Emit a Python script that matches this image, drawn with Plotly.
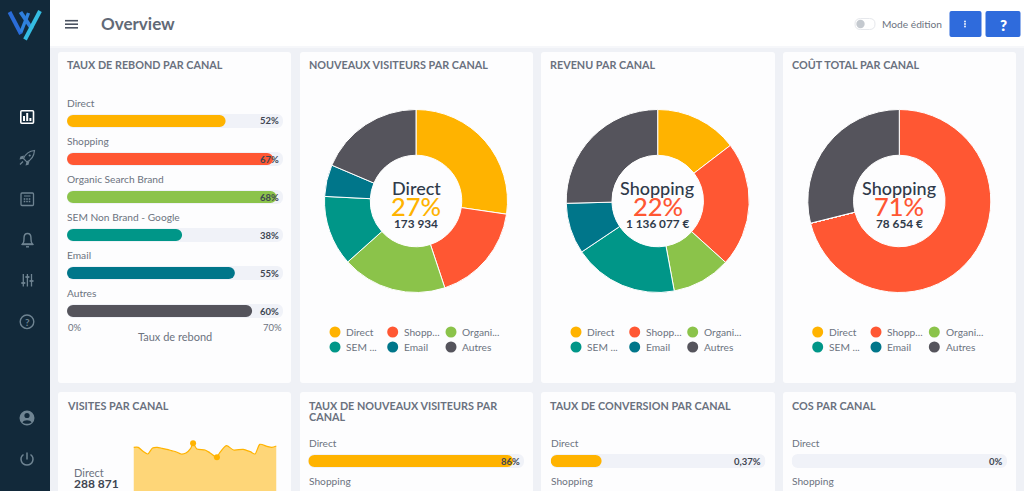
import plotly.graph_objects as go

W, H = 1024, 491
FONT = "Lato"

# ---- data ----
channels = ["Direct", "Shopping", "Organic Search Brand", "SEM Non Brand - Google", "Email", "Autres"]
colors = ["#ffb300", "#ff5733", "#8bc34a", "#009688", "#00768a", "#55545c"]
legend_labels = ["Direct", "Shopp...", "Organi...", "SEM ...", "Email", "Autres"]

bounce_values = [51.4, 66.8, 67.9, 37.3, 54.4, 60.0]
bounce_labels = ["52%", "67%", "68%", "38%", "55%", "60%"]
bounce_max = 70

new_visitors = [27.3, 17.6, 18.5, 12.4, 5.6, 18.6]
revenue = [14.6, 22.1, 10.4, 18.5, 9.0, 25.4]
cost = [0, 71.1, 0, 0, 0, 28.9]

visit_days = [0, 1, 2, 3, 4, 5, 6, 7, 8, 9, 10, 11, 12, 12.5, 13.3, 15, 16, 17.5, 18, 19.5, 21, 23, 24.5, 25.5, 26.5, 28, 29, 30]
visit_values = [10480, 10480, 9520, 8880, 10320, 10480, 10240, 10000, 9680, 9360, 8880, 9120, 10240, 11440,
                10080, 9840, 9200, 8080, 9040, 10880, 9840, 10000, 9440, 8880, 11200, 10720, 10480, 10800]
visit_marker_days = [12.5, 17.5]
visit_marker_values = [11440, 8080]

bottom_cats = ["Direct", "Shopping"]
new_rate = [86, None]
new_rate_labels = ["86%"]
conv_rate = [0.37, None]
conv_rate_labels = ["0,37%"]
cos_rate = [0, None]
cos_rate_labels = ["0%"]

pie_panels = [
    dict(values=new_visitors, cx=416, cy=201, name="Direct", pct="27%", val="173 934", col=colors[0],
         lx=[335, 392.7, 451], tx=[345, 403, 461.5]),
    dict(values=revenue, cx=657.7, cy=201, name="Shopping", pct="22%", val="1 136 077 €", col=colors[1],
         lx=[576, 634.7, 692.7], tx=[586.5, 645, 703]),
    dict(values=cost, cx=899.3, cy=201, name="Shopping", pct="71%", val="78 654 €", col=colors[1],
         lx=[817.7, 876, 934.3], tx=[828.2, 886.5, 945]),
]

TITLE = "#6a717e"
LABEL = "#6c7380"
DARK = "#2f3a4a"
TRACK = "#f0f2f8"
SIDE = "#12293a"
ICON = "#6f8492"

shapes, annots = [], []


def dom_x(a, b):
    return [a / W, b / W]


def dom_y(top, bottom):
    return [1 - bottom / H, 1 - top / H]


def rrect(x0, y0, x1, y1, r):
    return (f"M{x0+r} {y0} L{x1-r} {y0} Q{x1} {y0} {x1} {y0+r} L{x1} {y1-r} Q{x1} {y1} {x1-r} {y1} "
            f"L{x0+r} {y1} Q{x0} {y1} {x0} {y1-r} L{x0} {y0+r} Q{x0} {y0} {x0+r} {y0} Z")


def S(**k):
    k.setdefault("xref", "x")
    k.setdefault("yref", "y")
    k.setdefault("layer", "below")
    k.setdefault("line", dict(width=0))
    shapes.append(k)


def path(d, fill="rgba(0,0,0,0)", line=None, width=0):
    S(type="path", path=d, fillcolor=fill, line=dict(color=line or "rgba(0,0,0,0)", width=width))


def rect(x0, y0, x1, y1, fill):
    S(type="rect", x0=x0, y0=y0, x1=x1, y1=y1, fillcolor=fill)


def circ(cx, cy, r, fill="rgba(0,0,0,0)", line=None, width=0):
    S(type="circle", x0=cx - r, x1=cx + r, y0=cy - r, y1=cy + r, fillcolor=fill,
      line=dict(color=line or "rgba(0,0,0,0)", width=width))


def seg(x0, y0, x1, y1, col, width):
    S(type="line", x0=x0, y0=y0, x1=x1, y1=y1, line=dict(color=col, width=width))


def T(x, y, text, size=11, color=LABEL, anchor="left", weight=400, xref="x", yref="y", **k):
    annots.append(dict(x=x, y=y, xref=xref, yref=yref, text=text, showarrow=False, xanchor=anchor,
                       yanchor="middle", borderpad=0,
                       font=dict(family=FONT, size=size, color=color, weight=weight), **k))


# ---- page chrome ----
rect(0, 0, W, H, "#eff1f6")
rect(50, 0, W, 46, "#ffffff")
rect(50, 46, W, 48, "#f6f7fa")
rect(0, 0, 50, H, SIDE)

cards = [(58, 52, 291, 383), (300, 52, 533, 383), (541, 52, 775, 383), (783, 52, 1016, 383),
         (58, 392, 291, 500), (300, 392, 533, 500), (541, 392, 775, 500), (783, 392, 1016, 500)]
for c in cards:
    path(rrect(*c, 3), fill="#fdfdfe")

# header
for yy in (20.7, 24.2, 27.8):
    seg(65, yy, 78, yy, "#4b5361", 1.6)
T(99.8, 23.3, "Overview", size=17, color="#626a77", weight=700)
path(rrect(855, 18.5, 875, 29.5, 5.5), fill="#ffffff", line="#e6e8ec", width=1)
circ(860.5, 24, 4.2, fill="#c4c9cf")
T(880.5, 23.5, "Mode édition", size=10.2, color=LABEL)
path(rrect(949.5, 11, 981.5, 37, 2), fill="#2f6bdc")
path(rrect(985.5, 11, 1020.5, 37, 2), fill="#2f6bdc")
for yy in (21.5, 24, 26.5):
    circ(965, yy, 0.9, fill="#ffffff")
T(1003, 24.5, "?", size=15, color="#ffffff", anchor="center", weight=800)

# logo
seg(9.5, 12, 21, 34, "#2a6cd8", 4)
seg(21, 32, 28.5, 13, "#2f84dd", 3.4)
seg(20.5, 12, 32, 29, "#2f7fdc", 4)
seg(40, 11, 25, 39.5, "#35bde2", 4)

# sidebar icons
path(rrect(20.8, 110.8, 33.5, 123.3, 1), line="#ffffff", width=1.6)
for bx, top in ((24, 116), (27.2, 113), (30.4, 118)):
    seg(bx, top, bx, 121, "#ffffff", 2)
# rocket
path("M34.5 150.5 C29 151 25.5 154 23.5 158.5 L26.8 161.8 C31.5 160 34 156 34.5 150.5 Z", line=ICON, width=1.2)
path("M24 155.5 L20.5 156.5 L19.5 159.5 L23.2 158.7 Z", fill=ICON)
path("M29.5 161 L28.5 164.7 L25.5 165.5 L26.5 162 Z", fill=ICON)
seg(23, 161.5, 20, 164.5, ICON, 1.2)
circ(29.7, 155.5, 1.1, fill=ICON)
# calculator / table
path(rrect(21, 193, 33.5, 205.5, 1), line=ICON, width=1.3)
for gx in (24.5, 27, 29.5):
    for gy in (199, 201.5):
        rect(gx - 0.8, gy - 0.8, gx + 0.8, gy + 0.8, ICON)
seg(24, 196, 30.5, 196, ICON, 1)
# bell
path("M22.5 244 C24.5 242 24 240 24 238 C24 235 25.5 233.5 27.5 233.5 C29.5 233.5 31 235 31 238 C31 240 30.5 242 32.5 244 Z",
     line=ICON, width=1.4)
seg(21.8, 244.5, 33.2, 244.5, ICON, 1.4)
seg(26, 246.8, 29, 246.8, ICON, 1.4)
# sliders
for sx, ky in ((23.3, 283), (27.4, 277), (31.5, 281)):
    seg(sx, 274, sx, 286.5, ICON, 1.3)
    seg(sx - 2, ky, sx + 2, ky, ICON, 1.8)
# help
circ(27, 321.8, 6.8, line=ICON, width=1.4)
T(27, 322, "?", size=10, color=ICON, anchor="center", weight=700)
# user
circ(27, 418, 7.5, fill=ICON)
circ(27, 415.5, 2.6, fill=SIDE)
path("M22.5 422.5 C23.5 419.5 30.5 419.5 31.5 422.5 C29.5 424.3 24.5 424.3 22.5 422.5 Z", fill=SIDE)
# power
path("M23.5 454.5 C19 458 21 465 27 465 C33 465 35 458 30.5 454.5", line=ICON, width=1.5)
seg(27, 452.5, 27, 459.5, ICON, 1.5)

# card titles
for x, y, txt in [(65.8, 64.4, "TAUX DE REBOND PAR CANAL"), (307.5, 64.4, "NOUVEAUX VISITEURS PAR CANAL"),
                  (549, 64.4, "REVENU PAR CANAL"), (791, 64.4, "COÛT TOTAL PAR CANAL"),
                  (65.8, 405.4, "VISITES PAR CANAL"), (307.5, 405.4, "TAUX DE NOUVEAUX VISITEURS PAR"),
                  (307.5, 416.5, "CANAL"), (549, 405.4, "TAUX DE CONVERSION PAR CANAL"),
                  (791, 405.4, "COS PAR CANAL")]:
    T(x, y, txt, size=10.8, color=TITLE, weight=700)

fig = go.Figure()
# placeholder trace keeps the pixel axes as the first subplot
fig.add_trace(go.Scatter(x=[None], y=[None], xaxis="x", yaxis="y", showlegend=False, hoverinfo="skip"))


def pill(cats, vals, cols, thickness, xa, ya):
    """A bar with an explicit base, which plotly rounds at both ends."""
    fig.add_trace(go.Bar(y=cats, base=[0] * len(cats), x=vals, orientation="h", width=thickness,
                         xaxis=xa, yaxis=ya,
                         marker=dict(color=cols, line=dict(width=0), cornerradius=thickness * 19),
                         hoverinfo="skip", showlegend=False))


def hbar_panel(idx, x0, x1, y0, y1, yrange, cats, vals, labels, vmax, label_size=9.5):
    xa, ya = f"x{idx}", f"y{idx}"
    pill(cats, [vmax] * len(cats), [TRACK] * len(cats), 0.368, xa, ya)
    pill(cats, vals, colors[:len(cats)], 0.316, xa, ya)
    ax = dict(domain=dom_x(x0, x1), range=[0, vmax], visible=False, fixedrange=True)
    ay = dict(domain=dom_y(y0, y1), range=yrange, visible=False, fixedrange=True, type="category",
              categoryorder="array", categoryarray=cats)
    fig.update_layout({f"xaxis{idx}": ax, f"yaxis{idx}": ay})
    for c, lab in zip(cats, labels):
        T(vmax, c, lab, size=label_size, color="#3f4652", anchor="right", weight=700,
          xref=xa, yref=ya, xshift=-3.5)
    # labels sit above each bar; a bar whose centre lies past the page edge loses its
    # axis anchor, so its label is placed from the panel's own row pitch instead
    for i, c in enumerate(cats):
        if i <= max(yrange):
            T(0, c, c, size=10.2, color=LABEL, xref=xa, yref=ya, yshift=18.2, xshift=-0.7)
        else:
            row_px = (y0 + 19) + 38 * i - 18.2
            T(x0 - 0.7, row_px, c, size=10.2, color=LABEL)


# bounce-rate panel
hbar_panel(2, 67, 283, 102, 330, [5.5, -0.5], channels, bounce_values, bounce_labels, bounce_max)
T(66.5, 327, "0%", size=9.5)
T(283, 327, f"{bounce_max}%", size=9.5, anchor="right")
T(174.7, 336, "Taux de rebond", size=11, anchor="center")

# donuts
for p in pie_panels:
    r = 91.5
    fig.add_trace(go.Pie(values=p["values"], labels=channels, hole=0.5, sort=False, direction="clockwise",
                         rotation=0, textinfo="none", hoverinfo="skip", showlegend=False,
                         marker=dict(colors=colors, line=dict(color="#ffffff", width=1)),
                         domain=dict(x=dom_x(p["cx"] - r, p["cx"] + r), y=dom_y(p["cy"] - r, p["cy"] + r))))
    T(p["cx"], p["cy"] - 13, p["name"], size=18, color=DARK, anchor="center", weight=500)
    T(p["cx"], p["cy"] + 5, p["pct"], size=25.5, color=p["col"], anchor="center", weight=500)
    T(p["cx"], p["cy"] + 22, p["val"], size=11.8, color=DARK, anchor="center", weight=700)
    for i, lab in enumerate(legend_labels):
        col = i % 3
        yy = 332 if i < 3 else 347
        circ(p["lx"][col], yy, 5.5, fill=colors[i])
        T(p["tx"][col] - 0.5, yy - 0.5, lab, size=10.2)

# visits area
fig.add_trace(go.Scatter(x=visit_days, y=visit_values, mode="lines", xaxis="x3", yaxis="y3",
                         line=dict(color="#ffb300", width=1.2, shape="spline", smoothing=0.7),
                         fill="tozeroy", fillcolor="rgba(255,179,0,0.53)", hoverinfo="skip", showlegend=False))
fig.add_trace(go.Scatter(x=visit_marker_days, y=visit_marker_values, mode="markers", xaxis="x3", yaxis="y3",
                         marker=dict(color="#ffb300", size=6), hoverinfo="skip", showlegend=False,
                         cliponaxis=False))
fig.update_layout(xaxis3=dict(domain=dom_x(133.5, 276.5), range=[0, 30], visible=False, fixedrange=True),
                  yaxis3=dict(domain=dom_y(430, 491), range=[0, 14640], visible=False, fixedrange=True))
T(72.5, 472.5, "Direct", size=11)
T(72.5, 483.5, "288 871", size=12, color="#3f4652", weight=700)

# bottom bar panels
brange = [0.789, -0.5]
hbar_panel(4, 308.3, 524, 442, 491, brange, bottom_cats, new_rate, new_rate_labels, 90.5)
hbar_panel(5, 550.7, 765.4, 442, 491, brange, bottom_cats, conv_rate, conv_rate_labels, 1.56)
hbar_panel(6, 791.7, 1007, 442, 491, brange, bottom_cats, cos_rate, cos_rate_labels, 100)

fig.update_layout(
    width=W, height=H, autosize=False,
    margin=dict(l=0, r=0, t=0, b=0, pad=0),
    paper_bgcolor="#eff1f6", plot_bgcolor="rgba(0,0,0,0)",
    barmode="overlay", showlegend=False,
    xaxis=dict(domain=[0, 1], range=[0, W], visible=False, fixedrange=True),
    yaxis=dict(domain=[0, 1], range=[H, 0], visible=False, fixedrange=True),
    shapes=shapes, annotations=annots,
    font=dict(family=FONT),
)

fig.write_html("out.html", config={"displayModeBar": False},
               post_script="document.body.style.margin='0';document.body.style.overflow='hidden';")
